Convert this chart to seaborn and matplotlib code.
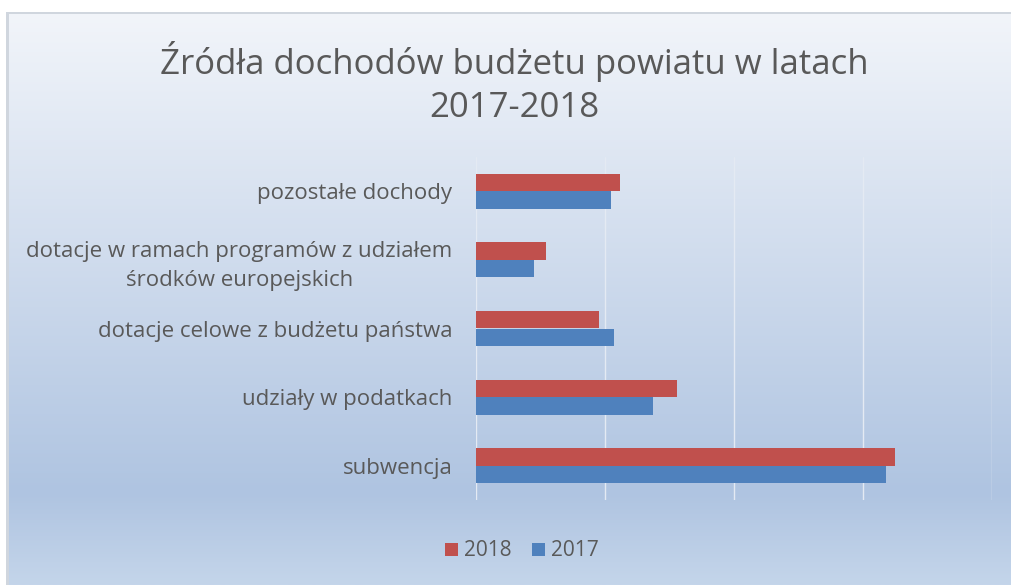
"""Źródła dochodów budżetu powiatu 2017-2018 — horizontal grouped bars."""

import matplotlib

matplotlib.use("Agg")
import matplotlib.pyplot as plt
import numpy as np
import pandas as pd
import seaborn as sns
from matplotlib.colors import LinearSegmentedColormap

categories = [
    "pozostałe dochody",
    "dotacje w ramach programów z udziałem\nśrodków europejskich",
    "dotacje celowe z budżetu państwa",
    "udziały w podatkach",
    "subwencja",
]
years = ["2018", "2017"]
values_2018 = [11.2, 5.4, 9.5, 15.6, 32.5]
values_2017 = [10.5, 4.5, 10.7, 13.7, 31.8]

df = pd.DataFrame(
    {
        "kategoria": categories * 2,
        "rok": ["2018"] * len(categories) + ["2017"] * len(categories),
        "wartosc": values_2018 + values_2017,
    }
)

sns.set_theme(style="white")
plt.rcParams["font.family"] = ["Open Sans", "DejaVu Sans"]
text_col = "#595959"

W, H = 1011, 585
fig = plt.figure(figsize=(W / 100, H / 100), dpi=100)
fig.patch.set_facecolor("white")

# gradient panel behind the chart
bg = fig.add_axes([6 / W, 0, 1 - 6 / W, 1 - 12 / H])
cmap = LinearSegmentedColormap.from_list(
    "bg", [(0.0, "#f2f5fa"), (0.84, "#afc4e1"), (1.0, "#c4d5ea")]
)
grad = np.linspace(0, 1, 256).reshape(-1, 1)
bg.imshow(grad, aspect="auto", cmap=cmap, extent=[0, 1, 0, 1], origin="upper")
bg.set_axis_off()
for x0, x1, y0, y1 in [(0, 0.003, 0, 1), (0, 1, 0.997, 1)]:
    bg.axvspan(x0, x1, ymin=y0, ymax=y1, color="#d0d6de", lw=0)

ax = fig.add_axes([476 / W, 1 - 500 / H, (992 - 476) / W, (500 - 157) / H])
ax.set_facecolor("none")
sns.barplot(
    data=df,
    y="kategoria",
    x="wartosc",
    hue="rok",
    hue_order=years,
    order=categories,
    palette={"2018": "#c0504d", "2017": "#4f81bd"},
    orient="h",
    width=0.51,
    saturation=1,
    linewidth=0,
    ax=ax,
    zorder=3,
)
ax.set_xlim(0, 40)
ax.set_xticks([0, 10, 20, 30, 40])
ax.xaxis.grid(True, color="#e4eaf3", lw=1.0, zorder=0)
ax.tick_params(axis="x", labelbottom=False, length=0)
ax.tick_params(axis="y", length=0, pad=17, labelsize=16, labelcolor=text_col)
for lab in ax.get_yticklabels():
    lab.set_multialignment("center")
    lab.set_linespacing(1.45)
for s in ax.spines.values():
    s.set_visible(False)
ax.set_xlabel("")
ax.set_ylabel("")
ax.get_legend().remove()

fig.text(
    0.509,
    1 - 83 / H,
    "Źródła dochodów budżetu powiatu w latach\n2017-2018",
    ha="center",
    va="center",
    fontsize=25,
    color=text_col,
    linespacing=1.32,
)

handles, labels = ax.get_legend_handles_labels()
fig.legend(
    handles,
    labels,
    loc="center",
    bbox_to_anchor=(522 / W, 1 - 551 / H),
    ncol=2,
    frameon=False,
    fontsize=15,
    labelcolor=text_col,
    handlelength=0.6,
    handleheight=0.6,
    handletextpad=0.3,
    columnspacing=1.0,
)

fig.savefig("out.png", dpi=100)
